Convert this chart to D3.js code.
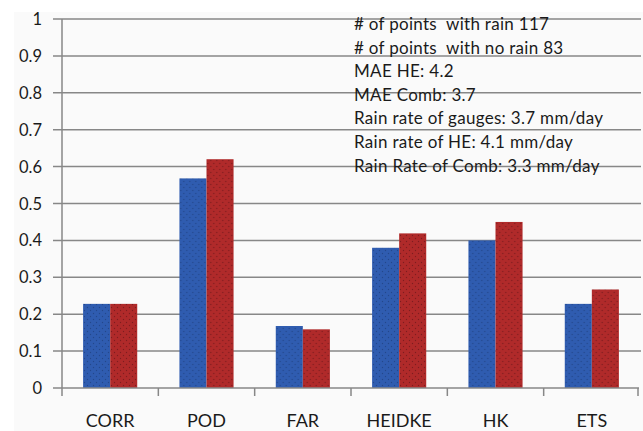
<!DOCTYPE html>
<html>
<head>
<meta charset="utf-8">
<script src="https://cdn.jsdelivr.net/npm/d3@7"></script>
<style>
  body { margin: 0; background: #fff; }
  text { font-family: Lato, "Open Sans", sans-serif; fill: #1a1a1a; }
</style>
</head>
<body>
<svg id="chart" width="643" height="431"></svg>
<script>
var categories = ["CORR", "POD", "FAR", "HEIDKE", "HK", "ETS"];
var seriesNames = ["HE", "Comb"];
var heValues = [0.228, 0.568, 0.168, 0.38, 0.40, 0.228];
var combValues = [0.228, 0.62, 0.159, 0.419, 0.45, 0.267];
var yTicks = [0, 0.1, 0.2, 0.3, 0.4, 0.5, 0.6, 0.7, 0.8, 0.9, 1];
var notes = [
    "# of points  with rain 117",
    "# of points  with no rain 83",
    "MAE HE: 4.2",
    "MAE Comb: 3.7",
    "Rain rate of gauges: 3.7 mm/day",
    "Rain rate of HE: 4.1 mm/day",
    "Rain Rate of Comb: 3.3 mm/day"
];

var colors = { HE: "#2f5cb0", Comb: "#b02a2a" };
var dots = { HE: "#23478c", Comb: "#7e1c1f" };

var svg = d3.select("#chart");

// plot background
svg.append("rect")
    .attr("x", 14).attr("y", 12)
    .attr("width", 629).attr("height", 419)
    .attr("fill", "#fafafa");

var defs = svg.append("defs");
seriesNames.forEach(function(s) {
    var p = defs.append("pattern")
        .attr("id", "pat" + s)
        .attr("patternUnits", "userSpaceOnUse")
        .attr("width", 6).attr("height", 6);
    p.append("rect").attr("width", 6).attr("height", 6).attr("fill", colors[s]);
    p.append("circle").attr("cx", 1.5).attr("cy", 1.5).attr("r", 0.7).attr("fill", dots[s]);
    p.append("circle").attr("cx", 4.5).attr("cy", 4.5).attr("r", 0.7).attr("fill", dots[s]);
});

var x = d3.scaleBand().domain(categories).range([62, 640]);
var x1 = d3.scaleBand().domain(seriesNames).range([0, x.bandwidth()]).paddingOuter(0.78);
var y = d3.scaleLinear().domain([0, 1]).range([388, 19]);

// gridlines + left ticks
svg.append("g").selectAll("line")
    .data(yTicks.filter(function(d) { return d > 0; }))
    .join("line")
    .attr("x1", 53).attr("x2", 641)
    .attr("y1", function(d) { return y(d); })
    .attr("y2", function(d) { return y(d); })
    .attr("stroke", "#878787")
    .attr("stroke-width", 1.5);

svg.append("g").selectAll("text")
    .data(yTicks)
    .join("text")
    .attr("x", 42)
    .attr("y", function(d) { return y(d) + 6; })
    .attr("text-anchor", "end")
    .style("font-size", "16.5px")
    .text(function(d) { return d3.format("")(d); });

// bars
var data = categories.map(function(c, i) {
    return { cat: c, vals: [{ s: "HE", v: heValues[i] }, { s: "Comb", v: combValues[i] }] };
});

svg.append("g").selectAll("g")
    .data(data)
    .join("g")
    .attr("transform", function(d) { return "translate(" + x(d.cat) + ",0)"; })
    .selectAll("rect")
    .data(function(d) { return d.vals; })
    .join("rect")
    .attr("x", function(d) { return x1(d.s); })
    .attr("width", x1.bandwidth())
    .attr("y", function(d) { return y(d.v); })
    .attr("height", function(d) { return y(0) - y(d.v); })
    .attr("fill", function(d) { return "url(#pat" + d.s + ")"; });

// axes lines
svg.append("line")
    .attr("x1", 62).attr("x2", 62).attr("y1", y(1)).attr("y2", y(0))
    .attr("stroke", "#878787").attr("stroke-width", 1.5);
svg.append("line")
    .attr("x1", 53).attr("x2", 639).attr("y1", y(0)).attr("y2", y(0))
    .attr("stroke", "#878787").attr("stroke-width", 1.5);

var bounds = categories.map(function(c) { return x(c); }).concat([x.range()[1] - 2]);
svg.append("g").selectAll("line")
    .data(bounds)
    .join("line")
    .attr("x1", function(d) { return d; }).attr("x2", function(d) { return d; })
    .attr("y1", y(0)).attr("y2", y(0) + 8)
    .attr("stroke", "#878787").attr("stroke-width", 1.5);

svg.append("g").selectAll("text")
    .data(categories)
    .join("text")
    .attr("x", function(d) { return x(d) + x.bandwidth() / 2; })
    .attr("y", 427)
    .attr("text-anchor", "middle")
    .style("font-size", "18px")
    .text(function(d) { return d; });

// annotation box
svg.append("g").selectAll("text")
    .data(notes)
    .join("text")
    .attr("x", 354)
    .attr("y", function(d, i) { return 30 + i * 23.6; })
    .style("font-size", "17px")
    .style("letter-spacing", "0.3px")
    .style("white-space", "pre")
    .text(function(d) { return d; });
</script>
</body>
</html>
